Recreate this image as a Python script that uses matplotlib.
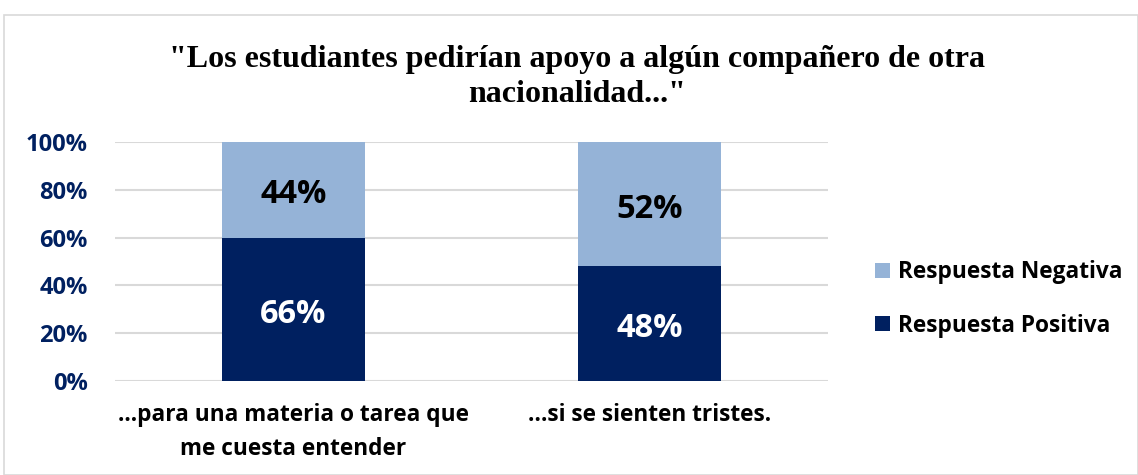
import numpy as np
import matplotlib.pyplot as plt
from matplotlib.patches import Rectangle
from matplotlib.ticker import PercentFormatter

categories = ["...para una materia o tarea que\nme cuesta entender", "…si se sienten tristes."]
positiva = [66, 48]
negativa = [44, 52]
series_names = ["Respuesta Positiva", "Respuesta Negativa"]
title = "\"Los estudiantes pedirían apoyo a algún compañero de otra\nnacionalidad...\""

DARK = "#002060"
LIGHT = "#95B3D7"
SANS = ["Open Sans", "DejaVu Sans"]

# 100% stacked: each bar normalised to its own total
pos = np.array(positiva, dtype=float)
neg = np.array(negativa, dtype=float)
tot = pos + neg
pos_n = pos / tot * 100
neg_n = neg / tot * 100

fig = plt.figure(figsize=(11.38, 4.75), dpi=100)
fig.patches.append(Rectangle((4 / 1138, 0), 1 - 4 / 1138, 1 - 15 / 475, transform=fig.transFigure,
                             fill=False, edgecolor="#d9d9d9", linewidth=1.2))
ax = fig.add_axes([115 / 1138, 1 - 381 / 475, (828 - 115) / 1138, (381 - 142) / 475])

x = np.arange(len(categories))
b1 = ax.bar(x, pos_n, width=0.4, color=DARK, label=series_names[0], zorder=3)
b2 = ax.bar(x, neg_n, width=0.4, bottom=pos_n, color=LIGHT, label=series_names[1], zorder=3)

for i in range(len(x)):
    ax.annotate(f"{positiva[i]}%", (x[i], pos_n[i] / 2), xytext=(0, -3.5), textcoords="offset points",
                ha="center", va="center", color="white",
                fontsize=23.5, fontweight="bold", family=SANS, zorder=4)
    ax.annotate(f"{negativa[i]}%", (x[i], pos_n[i] + neg_n[i] / 2), xytext=(0, -3.5),
                textcoords="offset points", ha="center", va="center", color="black",
                fontsize=23.5, fontweight="bold", family=SANS, zorder=4)

ax.set_xlim(-0.5, 1.5)
ax.set_ylim(0, 100)
ax.set_yticks(np.arange(0, 101, 20))
ax.yaxis.set_major_formatter(PercentFormatter(decimals=0))
ax.grid(axis="y", color="#d9d9d9", linewidth=1.5, zorder=0)
for s in ax.spines.values():
    s.set_visible(False)
ax.tick_params(length=0)
ax.tick_params(axis="y", pad=19.5)
ax.tick_params(axis="x", pad=16)
for lab in ax.get_yticklabels():
    lab.set_fontsize(17)
    lab.set_fontweight("bold")
    lab.set_color(DARK)
    lab.set_family(SANS)
ax.set_xticks(x)
ax.set_xticklabels(categories, fontsize=16.3, fontweight="bold", family=SANS, linespacing=1.55)

fig.text(577 / 1138, 1 - 77 / 475, title, ha="center", va="center", fontsize=23, fontweight="bold",
         family=["Liberation Serif", "DejaVu Serif"], linespacing=1.25)

handles = [b2, b1]
leg = fig.legend(handles, [series_names[1], series_names[0]], loc="center left",
                 bbox_to_anchor=(855 / 1138, 1 - 299 / 475), frameon=False,
                 prop={"family": SANS, "weight": "bold", "size": 16.3},
                 handlelength=0.65, handleheight=0.65, handletextpad=0.35, labelspacing=1.3)

fig.savefig("out.png", dpi=100)
